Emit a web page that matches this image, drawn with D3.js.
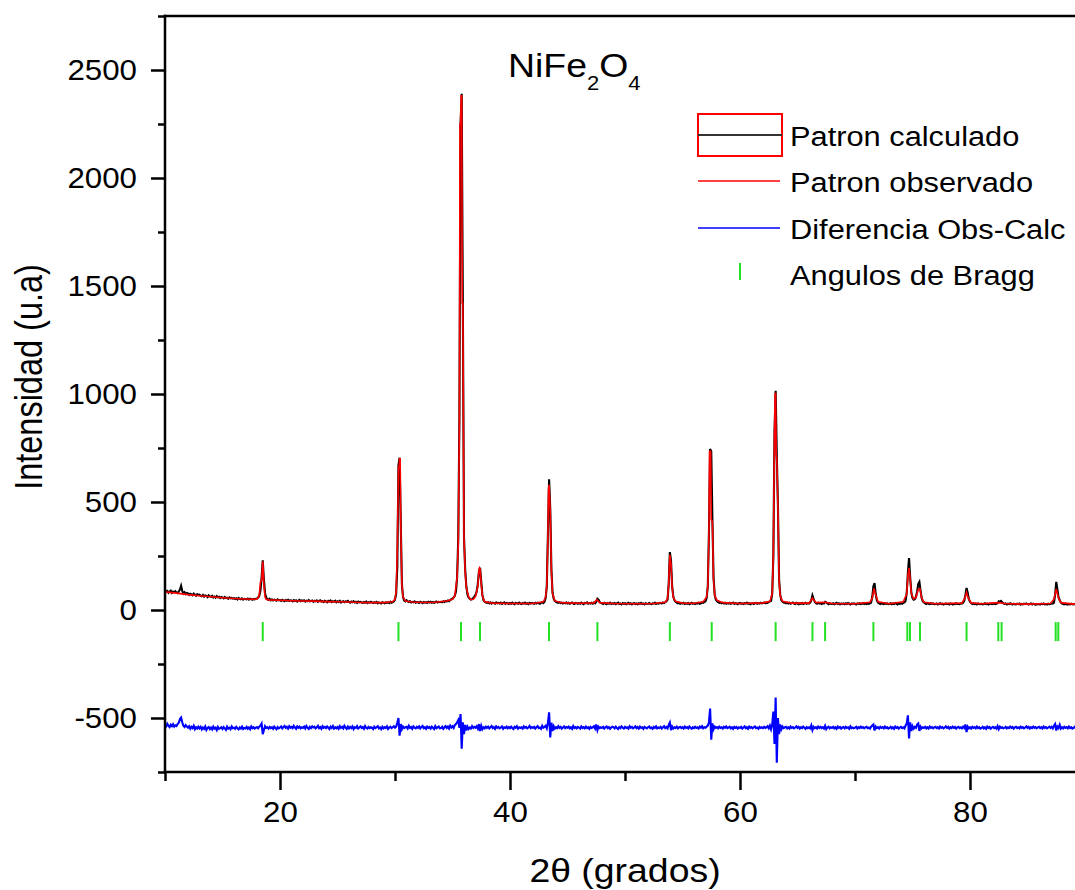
<!DOCTYPE html>
<html>
<head>
<meta charset="utf-8">
<script src="https://cdn.jsdelivr.net/npm/d3@7"></script>
<style>
  html, body { margin: 0; padding: 0; background: #fff; }
  svg { display: block; font-family: "Liberation Sans", Arial, sans-serif; }
</style>
</head>
<body>
<svg id="chart" width="1075" height="890"></svg>
<script>
// ---- Axis definitions -------------------------------------------------
const xDomain = [10, 90];
const yDomain = [-750, 2750];
const xMajorTicks = [20, 40, 60, 80];
const xMinorTicks = [10, 30, 50, 70, 90];
const yMajorTicks = [-500, 0, 500, 1000, 1500, 2000, 2500];
const yMinorTicks = [-750, -250, 250, 750, 1250, 1750, 2250, 2750];

// ---- Calculated pattern: intensities on a 0.1° grid, one row per degree (10.0 … 10.9, 11.0 …)
const calcStart = 10;
const calcRows = [
  [92, 84, 88, 80, 86, 90, 79, 85, 82, 87],
  [80, 78, 86, 95, 112, 88, 76, 82, 74, 79],
  [77, 70, 75, 72, 68, 76, 71, 66, 73, 69],
  [71, 66, 64, 70, 62, 67, 65, 60, 68, 63],
  [61, 66, 58, 62, 57, 64, 59, 61, 55, 60],
  [58, 54, 60, 55, 57, 52, 58, 54, 56, 53],
  [55, 51, 54, 49, 56, 52, 50, 54, 48, 52],
  [51, 49, 53, 48, 52, 50, 47, 51, 49, 52],
  [53, 58, 66, 90, 150, 230, 140, 78, 58, 50],
  [47, 52, 45, 49, 44, 48, 46, 43, 49, 45],
  [46, 42, 47, 44, 41, 46, 43, 48, 42, 45],
  [44, 40, 46, 42, 45, 39, 43, 47, 41, 44],
  [42, 45, 39, 43, 41, 46, 40, 42, 44, 38],
  [43, 40, 44, 38, 42, 45, 39, 41, 37, 43],
  [40, 36, 42, 39, 44, 37, 41, 38, 43, 36],
  [40, 37, 42, 35, 39, 41, 36, 40, 38, 42],
  [37, 34, 39, 36, 41, 35, 38, 33, 39, 36],
  [38, 35, 33, 37, 34, 39, 32, 36, 34, 38],
  [35, 32, 36, 33, 37, 31, 35, 33, 30, 36],
  [34, 31, 35, 33, 36, 32, 38, 34, 37, 40],
  [48, 75, 200, 670, 705, 410, 120, 60, 44, 40],
  [45, 40, 37, 41, 35, 38, 36, 40, 34, 37],
  [36, 33, 38, 35, 32, 37, 34, 36, 33, 38],
  [35, 38, 34, 37, 33, 36, 39, 35, 38, 36],
  [38, 36, 40, 37, 42, 39, 44, 41, 46, 50],
  [52, 58, 66, 85, 150, 330, 890, 2250, 2390, 1420],
  [340, 190, 110, 72, 58, 52, 48, 50, 55, 62],
  [70, 85, 120, 180, 195, 130, 70, 45, 38, 35],
  [33, 36, 31, 35, 30, 34, 32, 29, 35, 31],
  [33, 30, 34, 28, 32, 35, 29, 33, 31, 28],
  [32, 29, 34, 30, 27, 33, 31, 29, 34, 30],
  [28, 32, 30, 34, 29, 31, 27, 33, 30, 32],
  [31, 29, 33, 30, 34, 31, 29, 33, 36, 32],
  [38, 55, 110, 360, 605, 470, 190, 80, 52, 42],
  [38, 35, 33, 36, 32, 34, 30, 33, 31, 35],
  [30, 33, 29, 32, 35, 30, 28, 33, 31, 29],
  [32, 29, 34, 30, 27, 33, 31, 35, 29, 32],
  [30, 33, 29, 34, 31, 38, 52, 48, 36, 33],
  [31, 28, 33, 30, 27, 32, 29, 34, 28, 31],
  [29, 32, 27, 31, 34, 28, 30, 26, 32, 29],
  [31, 27, 30, 33, 28, 31, 26, 30, 32, 28],
  [30, 27, 31, 29, 33, 28, 30, 26, 31, 29],
  [28, 32, 29, 27, 31, 30, 34, 28, 31, 29],
  [31, 33, 30, 35, 32, 36, 40, 48, 120, 268],
  [230, 110, 62, 45, 38, 34, 31, 33, 29, 32],
  [30, 33, 28, 31, 29, 32, 27, 30, 33, 29],
  [31, 28, 32, 30, 33, 29, 31, 35, 33, 37],
  [40, 55, 110, 360, 745, 735, 420, 150, 70, 48],
  [40, 36, 33, 35, 31, 34, 30, 33, 29, 32],
  [30, 33, 29, 31, 34, 28, 32, 30, 27, 31],
  [33, 29, 31, 28, 32, 30, 34, 29, 31, 27],
  [30, 32, 28, 31, 33, 29, 32, 30, 34, 31],
  [32, 35, 31, 34, 33, 37, 40, 42, 75, 250],
  [820, 1015, 720, 480, 140, 70, 45, 38, 35, 33],
  [31, 34, 30, 33, 29, 32, 35, 30, 28, 33],
  [30, 27, 31, 29, 32, 28, 30, 33, 29, 31],
  [30, 34, 45, 68, 52, 38, 32, 29, 33, 30],
  [31, 28, 32, 30, 38, 35, 30, 27, 31, 29],
  [28, 31, 27, 30, 33, 28, 31, 26, 30, 28],
  [30, 27, 31, 28, 32, 29, 26, 30, 28, 31],
  [29, 26, 30, 28, 31, 27, 29, 32, 28, 30],
  [27, 30, 28, 31, 34, 60, 110, 125, 75, 45],
  [35, 31, 28, 32, 29, 27, 31, 28, 30, 27],
  [29, 31, 27, 30, 28, 32, 29, 26, 30, 28],
  [31, 29, 33, 35, 42, 80, 175, 240, 150, 80],
  [55, 48, 50, 60, 85, 120, 130, 90, 55, 40],
  [35, 31, 28, 32, 29, 27, 31, 28, 30, 27],
  [28, 30, 26, 29, 31, 27, 29, 25, 28, 30],
  [27, 29, 26, 30, 28, 25, 29, 27, 31, 28],
  [29, 27, 31, 30, 34, 42, 70, 102, 80, 50],
  [38, 32, 28, 30, 27, 29, 26, 30, 28, 27],
  [29, 26, 28, 31, 27, 29, 25, 28, 30, 27],
  [28, 30, 27, 29, 32, 40, 38, 42, 36, 31],
  [28, 30, 26, 29, 27, 31, 28, 25, 29, 27],
  [26, 29, 27, 30, 25, 28, 26, 29, 27, 30],
  [27, 25, 28, 30, 26, 29, 27, 24, 28, 26],
  [28, 25, 29, 27, 30, 26, 28, 25, 29, 27],
  [28, 31, 30, 34, 70, 130, 95, 60, 45, 35],
  [30, 28, 26, 29, 27, 25, 28, 26, 29, 27],
  [26, 28, 25, 27, 29, 26, 28, 25, 27, 26],
  [27]
];

// ---- Observed pattern: [2θ, intensity] pairs
const observed = [
  [10, 84], [11, 78], [12, 71], [13, 66], [14, 61], [15, 57], [16, 53], [17, 51], [17.9, 50],
  [18.1, 55], [18.2, 70], [18.3, 130], [18.4, 135], [18.5, 225], [18.6, 120], [18.7, 60], [18.8, 50],
  [19, 47], [20, 45], [21, 43], [22, 42], [23, 41], [24, 39], [25, 38], [26, 37], [27, 35], [28, 34],
  [29, 34], [29.8, 38], [30, 50], [30.1, 85], [30.2, 280], [30.3, 660], [30.35, 660], [30.4, 700],
  [30.45, 700], [30.5, 400], [30.6, 115], [30.7, 60], [30.9, 42], [31.5, 37], [32.5, 35], [33.5, 36],
  [34.5, 42], [35, 50], [35.2, 65], [35.4, 150], [35.5, 300], [35.6, 860], [35.65, 2250], [35.7, 2250],
  [35.75, 2380], [35.8, 2380], [35.85, 1420], [35.9, 1420], [36.0, 330], [36.1, 180], [36.2, 105],
  [36.4, 60], [36.6, 48], [36.8, 50], [37.0, 62], [37.2, 110], [37.3, 185], [37.35, 195], [37.4, 190],
  [37.5, 120], [37.6, 65], [37.8, 38], [38.5, 32], [40, 30], [42, 30], [42.9, 38], [43.1, 60],
  [43.2, 115], [43.3, 350], [43.35, 560], [43.4, 580], [43.5, 460], [43.6, 180], [43.7, 75], [43.9, 42],
  [44.5, 34], [46, 31], [47.3, 33], [47.55, 48], [47.8, 34], [49, 30], [51, 29], [52.5, 30], [53.5, 36],
  [53.7, 52], [53.8, 120], [53.9, 255], [54.0, 215], [54.1, 105], [54.2, 58], [54.4, 40], [55, 32],
  [56, 31], [56.8, 38], [57.1, 60], [57.2, 110], [57.3, 350], [57.35, 735], [57.45, 735], [57.5, 420],
  [57.6, 410], [57.7, 140], [57.8, 68], [58, 45], [58.5, 34], [60, 30], [62, 33], [62.6, 40],
  [62.8, 75], [62.9, 250], [63.0, 820], [63.05, 1000], [63.1, 1005], [63.15, 720], [63.2, 700],
  [63.3, 470], [63.4, 135], [63.5, 65], [63.7, 40], [64.5, 32], [66, 32], [66.3, 55], [66.6, 34],
  [67.4, 36], [68, 30], [70, 29], [71.3, 36], [71.5, 55], [71.65, 100], [71.8, 70], [72, 38], [73, 29],
  [74.2, 38], [74.5, 75], [74.6, 160], [74.7, 195], [74.8, 140], [74.9, 75], [75.1, 52], [75.3, 58],
  [75.5, 95], [75.65, 98], [75.8, 55], [76, 36], [77, 29], [79.3, 32], [79.55, 55], [79.7, 82],
  [79.85, 55], [80.1, 33], [81, 29], [82.5, 34], [83, 30], [85, 27], [87, 30], [87.3, 50], [87.5, 98],
  [87.7, 55], [87.9, 34], [89, 27], [90, 27]
];

// ---- Difference (observed − calculated, offset), same 0.1° grid as the calculated pattern
const diffStart = 10;
const diffRows = [
  [-530, -538, -527, -536, -542, -531, -538, -529, -540, -534],
  [-537, -528, -522, -505, -498, -520, -536, -542, -533, -540],
  [-545, -538, -550, -541, -547, -536, -552, -543, -549, -540],
  [-548, -541, -553, -544, -550, -539, -555, -546, -542, -551],
  [-544, -553, -540, -549, -545, -556, -541, -550, -547, -543],
  [-551, -542, -548, -555, -540, -549, -545, -552, -539, -547],
  [-545, -550, -541, -548, -553, -544, -549, -540, -551, -546],
  [-548, -541, -550, -544, -552, -539, -547, -543, -549, -545],
  [-542, -548, -540, -535, -526, -575, -556, -538, -546, -543],
  [-549, -541, -547, -543, -550, -540, -546, -552, -542, -548],
  [-544, -539, -548, -542, -537, -546, -541, -549, -538, -545],
  [-541, -547, -536, -544, -550, -539, -545, -540, -548, -543],
  [-546, -540, -549, -537, -545, -551, -541, -547, -539, -544],
  [-540, -548, -543, -536, -547, -542, -550, -538, -545, -541],
  [-547, -539, -545, -551, -540, -546, -537, -549, -543, -548],
  [-542, -550, -538, -546, -541, -548, -536, -544, -550, -540],
  [-548, -541, -547, -539, -552, -543, -546, -538, -549, -544],
  [-539, -546, -542, -550, -537, -545, -549, -541, -547, -543],
  [-545, -551, -540, -547, -543, -538, -548, -544, -552, -541],
  [-548, -542, -546, -539, -551, -544, -540, -547, -543, -538],
  [-545, -540, -522, -500, -582, -528, -552, -540, -547, -543],
  [-541, -549, -536, -546, -542, -550, -539, -545, -548, -541],
  [-546, -539, -548, -542, -537, -547, -543, -550, -540, -546],
  [-542, -549, -540, -545, -551, -538, -547, -543, -539, -548],
  [-547, -541, -550, -543, -538, -546, -540, -549, -535, -544],
  [-538, -546, -533, -528, -520, -510, -545, -482, -642, -520],
  [-575, -532, -558, -540, -551, -544, -549, -538, -546, -541],
  [-545, -538, -549, -528, -560, -536, -552, -543, -548, -540],
  [-546, -540, -548, -543, -537, -547, -542, -550, -539, -545],
  [-541, -548, -544, -539, -550, -543, -546, -540, -548, -542],
  [-547, -540, -546, -551, -541, -545, -538, -549, -543, -546],
  [-543, -549, -539, -545, -541, -548, -544, -537, -547, -542],
  [-546, -541, -549, -543, -538, -547, -544, -550, -536, -545],
  [-541, -536, -548, -522, -474, -590, -522, -560, -538, -549],
  [-543, -547, -538, -546, -541, -549, -544, -539, -547, -542],
  [-545, -540, -548, -543, -550, -537, -546, -542, -548, -541],
  [-544, -549, -539, -546, -542, -548, -540, -547, -543, -550],
  [-541, -546, -543, -538, -549, -530, -556, -540, -547, -543],
  [-546, -541, -549, -543, -539, -547, -542, -550, -544, -540],
  [-543, -548, -540, -546, -551, -542, -547, -539, -545, -549],
  [-541, -546, -543, -549, -538, -545, -541, -548, -544, -539],
  [-547, -542, -549, -540, -546, -543, -550, -541, -545, -548],
  [-543, -539, -547, -544, -550, -541, -546, -539, -548, -544],
  [-546, -541, -549, -543, -538, -547, -542, -548, -532, -521],
  [-556, -540, -549, -543, -546, -540, -548, -544, -541, -547],
  [-543, -549, -540, -546, -542, -548, -539, -545, -550, -543],
  [-547, -541, -546, -543, -549, -540, -545, -538, -548, -543],
  [-545, -540, -535, -520, -456, -600, -525, -552, -540, -546],
  [-542, -548, -540, -546, -543, -549, -541, -545, -539, -547],
  [-544, -540, -548, -543, -550, -541, -546, -542, -549, -543],
  [-546, -541, -549, -544, -539, -547, -543, -550, -540, -546],
  [-542, -548, -543, -539, -547, -544, -550, -541, -546, -543],
  [-547, -541, -546, -543, -538, -548, -535, -552, -530, -470],
  [-620, -405, -707, -500, -575, -530, -552, -540, -547, -543],
  [-541, -548, -543, -549, -540, -546, -542, -548, -544, -539],
  [-546, -541, -549, -543, -547, -540, -545, -550, -542, -547],
  [-543, -548, -534, -556, -541, -547, -543, -549, -540, -546],
  [-541, -547, -543, -549, -536, -552, -544, -540, -548, -543],
  [-546, -541, -548, -543, -550, -540, -546, -542, -549, -544],
  [-542, -548, -541, -546, -543, -550, -539, -547, -544, -548],
  [-545, -541, -549, -543, -547, -540, -546, -542, -548, -543],
  [-541, -547, -544, -549, -540, -535, -530, -558, -540, -547],
  [-543, -549, -541, -546, -542, -548, -540, -547, -543, -549],
  [-546, -541, -548, -543, -550, -540, -546, -542, -549, -544],
  [-541, -547, -543, -548, -535, -525, -488, -595, -520, -560],
  [-538, -549, -541, -546, -530, -525, -560, -540, -548, -543],
  [-546, -541, -548, -543, -549, -540, -546, -542, -548, -543],
  [-541, -547, -543, -549, -540, -546, -542, -548, -544, -539],
  [-546, -541, -549, -543, -547, -540, -546, -542, -549, -543],
  [-541, -547, -543, -548, -540, -546, -530, -565, -540, -548],
  [-543, -549, -541, -546, -542, -548, -540, -547, -543, -549],
  [-546, -541, -548, -543, -550, -540, -546, -542, -549, -544],
  [-541, -547, -543, -549, -537, -552, -540, -546, -543, -548],
  [-546, -541, -548, -543, -547, -540, -546, -542, -549, -543],
  [-541, -547, -543, -548, -540, -546, -542, -548, -544, -539],
  [-546, -541, -549, -543, -547, -540, -546, -542, -548, -543],
  [-541, -547, -543, -549, -540, -546, -542, -548, -544, -540],
  [-546, -541, -548, -536, -528, -558, -540, -547, -532, -549],
  [-543, -548, -541, -546, -542, -548, -540, -547, -543, -549],
  [-546, -541, -548, -543, -547, -540, -546, -542, -548, -543],
  [-545]
];

// ---- Bragg reflection positions (2θ) and the band they are drawn in
const braggAngles = [18.5, 30.3, 35.74, 37.39, 43.39, 47.6, 53.9, 57.54, 63.1, 66.3, 67.4,
                     71.6, 74.55, 74.78, 75.65, 79.7, 82.46, 82.75, 87.45, 87.68];
const braggBand = [-56, -144];

// ---- Legend entries
const legendItems = [
  { label: "Patron calculado", kind: "boxline" },
  { label: "Patron observado", kind: "line", color: "#ff0000" },
  { label: "Diferencia Obs-Calc", kind: "line", color: "#0000ff" },
  { label: "Angulos de Bragg", kind: "tick", color: "#22e022" }
];

// ---- Helpers -----------------------------------------------------------
const gridToPoints = (start, rows) =>
  rows.flatMap((row, i) => row.map((v, j) => [+(start + i + j / 10).toFixed(2), v]));

const calculated = gridToPoints(calcStart, calcRows);
const difference = gridToPoints(diffStart, diffRows);

const svg = d3.select("#chart");
const plot = { left: 165, top: 16, right: 1085, bottom: 772 };
const FONT_STRETCH = 1.1;

const x = d3.scaleLinear().domain(xDomain).range([plot.left, plot.right]);
const y = d3.scaleLinear().domain(yDomain).range([plot.bottom, plot.top]);

svg.append("defs").append("clipPath").attr("id", "plot-clip")
  .append("rect")
  .attr("x", plot.left).attr("y", plot.top)
  .attr("width", plot.right - plot.left).attr("height", plot.bottom - plot.top);

const line = d3.line().x(d => x(d[0])).y(d => y(d[1]));
const series = svg.append("g").attr("clip-path", "url(#plot-clip)");

// calculated first, observed drawn over it
series.append("path").datum(calculated).attr("d", line)
  .attr("fill", "none").attr("stroke", "#000").attr("stroke-width", 2.1)
  .attr("stroke-linejoin", "miter");
series.append("path").datum(observed).attr("d", line)
  .attr("fill", "none").attr("stroke", "#ff0000").attr("stroke-width", 1.6);
series.append("path").datum(difference).attr("d", line)
  .attr("fill", "none").attr("stroke", "#0000ff").attr("stroke-width", 2.1);

// Bragg markers
series.append("g").selectAll("line").data(braggAngles).join("line")
  .attr("x1", d => x(d)).attr("x2", d => x(d))
  .attr("y1", y(braggBand[0])).attr("y2", y(braggBand[1]))
  .attr("stroke", "#22e022").attr("stroke-width", 2);

// ---- Axes --------------------------------------------------------------
function styleAxis(g, width) {
  g.select(".domain").remove();
  g.selectAll(".tick line").attr("stroke", "#000").attr("stroke-width", width);
  g.selectAll(".tick text")
    .attr("fill", "#000")
    .style("font-family", "'Liberation Sans', Arial, sans-serif")
    .style("font-size", "29px")
    .attr("transform", `scale(${FONT_STRETCH * 0.98},1)`);
}

svg.append("g").attr("transform", `translate(${plot.left},0)`)
  .call(d3.axisLeft(y).tickValues(yMinorTicks).tickSize(7).tickFormat(""))
  .call(g => styleAxis(g, 2.5));
svg.append("g").attr("transform", `translate(${plot.left},0)`)
  .call(d3.axisLeft(y).tickValues(yMajorTicks).tickSize(14).tickPadding(12).tickFormat(d => String(d)))
  .call(g => styleAxis(g, 2.5));
svg.append("g").attr("transform", `translate(0,${plot.bottom})`)
  .call(d3.axisBottom(x).tickValues(xMinorTicks).tickSize(9).tickFormat(""))
  .call(g => styleAxis(g, 2.5));
svg.append("g").attr("transform", `translate(0,${plot.bottom})`)
  .call(d3.axisBottom(x).tickValues(xMajorTicks).tickSize(18).tickPadding(11).tickFormat(d => String(d)))
  .call(g => styleAxis(g, 2.5));

// frame lines: left, bottom, top
const frame = svg.append("g").attr("stroke", "#000").attr("stroke-width", 2.5).attr("stroke-linecap", "square");
frame.append("line").attr("x1", plot.left).attr("x2", plot.left).attr("y1", plot.top).attr("y2", plot.bottom);
frame.append("line").attr("x1", plot.left).attr("x2", plot.right).attr("y1", plot.bottom).attr("y2", plot.bottom);
frame.append("line").attr("x1", plot.left).attr("x2", plot.right).attr("y1", plot.top).attr("y2", plot.top);

// ---- Titles ------------------------------------------------------------
svg.append("text")
  .attr("transform", `translate(625,882) scale(${FONT_STRETCH},1)`)
  .attr("text-anchor", "middle")
  .style("font-size", "34px")
  .text("2θ (grados)");

svg.append("text")
  .attr("transform", `translate(42,377) scale(1.2,1) rotate(-90)`)
  .attr("text-anchor", "middle")
  .style("font-size", "32.5px")
  .text("Intensidad (u.a)");

const title = svg.append("text")
  .attr("transform", `translate(508,77) scale(${FONT_STRETCH},1)`)
  .style("font-size", "34px");
title.append("tspan").text("NiFe");
title.append("tspan").attr("dy", 13).style("font-size", "20px").text("2");
title.append("tspan").attr("dy", -13).text("O");
title.append("tspan").attr("dy", 13).style("font-size", "20px").text("4");

// ---- Legend ------------------------------------------------------------
const legend = svg.append("g");
const rowY = [135, 181, 228, 274];
legendItems.forEach((item, i) => {
  const cy = rowY[i];
  if (item.kind === "boxline") {
    legend.append("rect").attr("x", 698).attr("y", cy - 21).attr("width", 84).attr("height", 42)
      .attr("fill", "none").attr("stroke", "#ff0000").attr("stroke-width", 2);
    legend.append("line").attr("x1", 698).attr("x2", 782).attr("y1", cy).attr("y2", cy)
      .attr("stroke", "#333").attr("stroke-width", 2);
  } else if (item.kind === "line") {
    legend.append("line").attr("x1", 698).attr("x2", 780).attr("y1", cy).attr("y2", cy)
      .attr("stroke", item.color).attr("stroke-width", 1.6);
  } else {
    legend.append("line").attr("x1", 740).attr("x2", 740).attr("y1", cy - 11).attr("y2", cy + 6)
      .attr("stroke", item.color).attr("stroke-width", 2);
  }
  legend.append("text")
    .attr("transform", `translate(790,${cy + 11}) scale(${FONT_STRETCH},1)`)
    .style("font-size", "28px")
    .text(item.label);
});
</script>
</body>
</html>
